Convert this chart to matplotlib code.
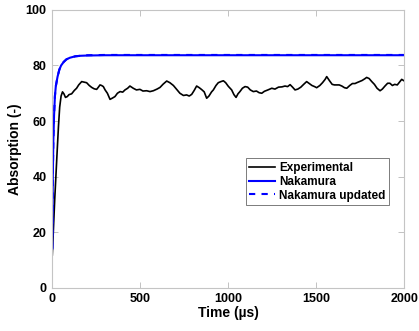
import matplotlib.pyplot as plt

# experimental absorption trace
t_exp = [0, 7, 14, 21, 28, 35, 42, 50, 58, 66, 75, 85, 95, 110, 125, 138, 150, 167, 180, 195,
         210, 224, 238, 252, 262, 271, 280, 290, 300, 313, 328, 340, 356, 370, 385, 400, 413, 428,
         441, 450, 460, 478, 498, 515, 536, 555, 574, 595, 612, 630, 650, 668, 688, 705, 725, 745,
         763, 778, 792, 806, 820, 835, 849, 863, 877, 890, 905, 915, 930, 943, 958, 972, 985, 1000,
         1019, 1032, 1044, 1055, 1066, 1080, 1095, 1110, 1125, 1142, 1160, 1175, 1190, 1205, 1225,
         1247, 1265, 1285, 1305, 1322, 1337, 1351, 1365, 1379, 1395, 1412, 1428, 1445, 1460, 1475,
         1490, 1502, 1520, 1535, 1550, 1559, 1575, 1590, 1603, 1616, 1630, 1645, 1660, 1673, 1690,
         1705, 1720, 1730, 1745, 1760, 1775, 1786, 1800, 1815, 1830, 1845, 1862, 1875, 1890, 1905,
         1918, 1932, 1945, 1960, 1975, 1985, 1998]
a_exp = [11.7, 22, 32, 41, 49.5, 58, 65, 69, 70.5, 69.8, 68.5, 68.8, 69.5, 69.8, 71, 71.8, 73, 74.2, 74, 73.8,
         72.8, 72.1, 71.6, 71.4, 72.2, 73, 72.8, 72.4, 71.2, 70, 67.8, 68.2, 68.8, 70, 70.6, 70.4, 71.2, 71.8,
         72.6, 72.2, 71.8, 71.2, 71.4, 70.8, 70.9, 70.6, 70.9, 71.5, 72.1, 73.3, 74.4, 73.8, 72.8, 71.5, 70, 69.2,
         69.4, 69.0, 69.6, 71, 72.6, 72, 71.3, 70.5, 68.2, 69, 70.5, 71.2, 72.8, 73.8, 74.2, 74.5, 73.8, 72.5,
         71.2, 69.5, 68.5, 69.8, 70.6, 71.8, 72.4, 72.2, 71.2, 70.6, 70.8, 70.2, 70, 70.7, 71.2,
         71.8, 71.5, 72.2, 72.3, 72.6, 72.4, 73.1, 72.2, 71.2, 71.5, 72.2, 73.2, 74.2, 73.5, 72.8,
         72.4, 72, 72.8, 73.8, 75, 76, 74.5, 73.2, 73, 73, 73, 72.6, 72, 71.8, 72.8,
         73.5, 73.5, 73.8, 74.2, 74.6, 75.2, 75.7, 75.3, 74.2, 73.2, 71.8, 70.9, 71.5, 72.6, 73.6,
         73.6, 72.8, 73.2, 73, 74.2, 75, 74.5]

# model curves
t_nak = [0, 3, 6, 10, 15, 20, 30, 40, 50, 65, 80, 100, 130, 160, 200, 300, 2000]
a_nak = [14, 40, 53, 62, 69, 72.5, 76, 78.5, 80, 81.3, 82.2, 82.8, 83.3, 83.5, 83.6, 83.7, 83.7]
a_nak_upd = [14, 40, 53, 62, 69, 72.5, 76, 78.5, 80, 81.3, 82.2, 82.8, 83.3, 83.5, 83.7, 83.8, 83.8]

plt.rcParams['font.family'] = ['Liberation Sans', 'DejaVu Sans']
plt.rcParams['font.weight'] = 'bold'

fig = plt.figure(figsize=(4.19, 3.31), dpi=100)
ax = fig.add_axes([0.1248, 0.1314, 0.8402, 0.8384])

ax.plot(t_exp, a_exp, color='black', lw=1.2, label='Experimental')
ax.plot(t_nak, a_nak, color='#0000ff', lw=1.5, label='Nakamura')
ax.plot(t_nak, a_nak_upd, color='#0000ff', lw=1.5, ls=(0, (3, 3)), label='Nakamura updated')

ax.set_xlim(0, 2000)
ax.set_ylim(0, 100)
ax.set_xticks([0, 500, 1000, 1500, 2000])
ax.set_yticks([0, 20, 40, 60, 80, 100])
ax.set_xlabel('Time (\u00b5s)', fontsize=10, fontweight='bold', labelpad=1)
ax.set_ylabel('Absorption (-)', fontsize=10, fontweight='bold', labelpad=3)

for s in ax.spines.values():
    s.set_color('#c4c4c4')
    s.set_linewidth(0.8)
ax.tick_params(direction='in', length=4.5, width=0.6, color='#b8b8b8', labelsize=9,
               top=True, right=True, pad=4)
for lbl in ax.get_xticklabels() + ax.get_yticklabels():
    lbl.set_fontweight('bold')

leg = ax.legend(loc='upper left', bbox_to_anchor=(0.55, 0.465), fontsize=8.5, frameon=True,
                fancybox=False, edgecolor='#666666', framealpha=1, borderpad=0.3,
                labelspacing=0.15, handlelength=2.2, handletextpad=0.3, borderaxespad=0)
leg.get_frame().set_linewidth(0.6)
for txt in leg.get_texts():
    txt.set_fontweight('bold')

fig.savefig('out.png', dpi=100)
